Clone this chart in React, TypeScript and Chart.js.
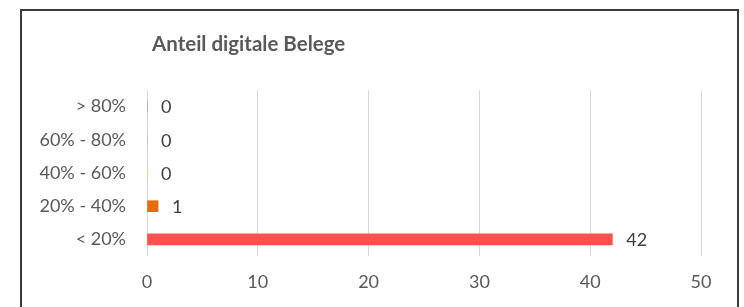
import React, { useEffect, useRef } from "react";
import { Chart, registerables } from "chart.js";

Chart.register(...registerables);

const categories = ["> 80%", "60% - 80%", "40% - 60%", "20% - 40%", "< 20%"];
const counts = [0, 0, 0, 1, 42];
const barColors = ["#4472C4", "#A5A5A5", "#FFC000", "#E46C0A", "#FF5050"];
const xTicks = [0, 10, 20, 30, 40, 50];
const titleText = "Anteil digitale Belege";

const FONT = "Lato, 'Open Sans', sans-serif";

const framePlugin = {
  id: "frame",
  beforeDraw(chart: any) {
    const { ctx, width, height } = chart;
    ctx.save();
    ctx.fillStyle = "#ffffff";
    ctx.fillRect(0, 0, width, height);
    ctx.strokeStyle = "#3a3a3a";
    ctx.lineWidth = 2;
    ctx.beginPath();
    ctx.moveTo(21, height + 5);
    ctx.lineTo(21, 10);
    ctx.lineTo(738, 10);
    ctx.lineTo(738, height + 5);
    ctx.stroke();
    ctx.restore();
  },
};

const titlePlugin = {
  id: "leftTitle",
  afterDraw(chart: any) {
    const { ctx, chartArea } = chart;
    ctx.save();
    ctx.font = `bold 20.5px ${FONT}`;
    ctx.fillStyle = "#595959";
    ctx.textAlign = "left";
    ctx.textBaseline = "alphabetic";
    ctx.fillText(titleText, chartArea.left + 5, 51);
    ctx.restore();
  },
};

const valueLabels = {
  id: "valueLabels",
  afterDatasetsDraw(chart: any) {
    const { ctx } = chart;
    const meta = chart.getDatasetMeta(0);
    ctx.save();
    ctx.font = `18px ${FONT}`;
    ctx.fillStyle = "#404040";
    ctx.textAlign = "left";
    ctx.textBaseline = "middle";
    meta.data.forEach((bar: any, i: number) => {
      ctx.fillText(String(counts[i]), bar.x + 14, bar.y + 1);
    });
    ctx.restore();
  },
};

export default function App() {
  const ref = useRef<HTMLCanvasElement>(null);
  useEffect(() => {
    if (!ref.current) return;
    const chart = new Chart(ref.current, {
      type: "bar",
      data: {
        labels: categories,
        datasets: [
          {
            data: counts,
            backgroundColor: barColors,
            barThickness: 11,
            borderWidth: 0,
          },
        ],
      },
      options: {
        indexAxis: "y",
        responsive: false,
        animation: false,
        events: [],
        layout: { padding: { top: 90, left: 0, right: 43, bottom: 0 } },
        plugins: {
          legend: { display: false },
          title: { display: false },
          tooltip: { enabled: false },
        },
        scales: {
          x: {
            min: 0,
            max: 50,
            afterBuildTicks(scale: any) {
              scale.ticks = xTicks.map((v) => ({ value: v }));
            },
            afterFit(scale: any) {
              scale.height = 51;
            },
            grid: { color: "#D9D9D9", lineWidth: 1, drawTicks: false },
            border: { display: false },
            ticks: {
              padding: 15,
              color: "#595959",
              font: { family: FONT, size: 18 },
            },
          },
          y: {
            afterFit(scale: any) {
              scale.width = 147;
            },
            grid: { display: false, drawTicks: false },
            border: { display: false },
            ticks: {
              padding: 21,
              color: "#595959",
              font: { family: FONT, size: 18 },
            },
          },
        },
      },
      plugins: [framePlugin, titlePlugin, valueLabels],
    });
    return () => chart.destroy();
  }, []);
  return (
    <div style={{ position: "fixed", left: 0, top: 0, width: 744, height: 307, overflow: "hidden", background: "#fff" }}>
      <canvas ref={ref} width={744} height={307} style={{ display: "block" }} />
    </div>
  );
}
